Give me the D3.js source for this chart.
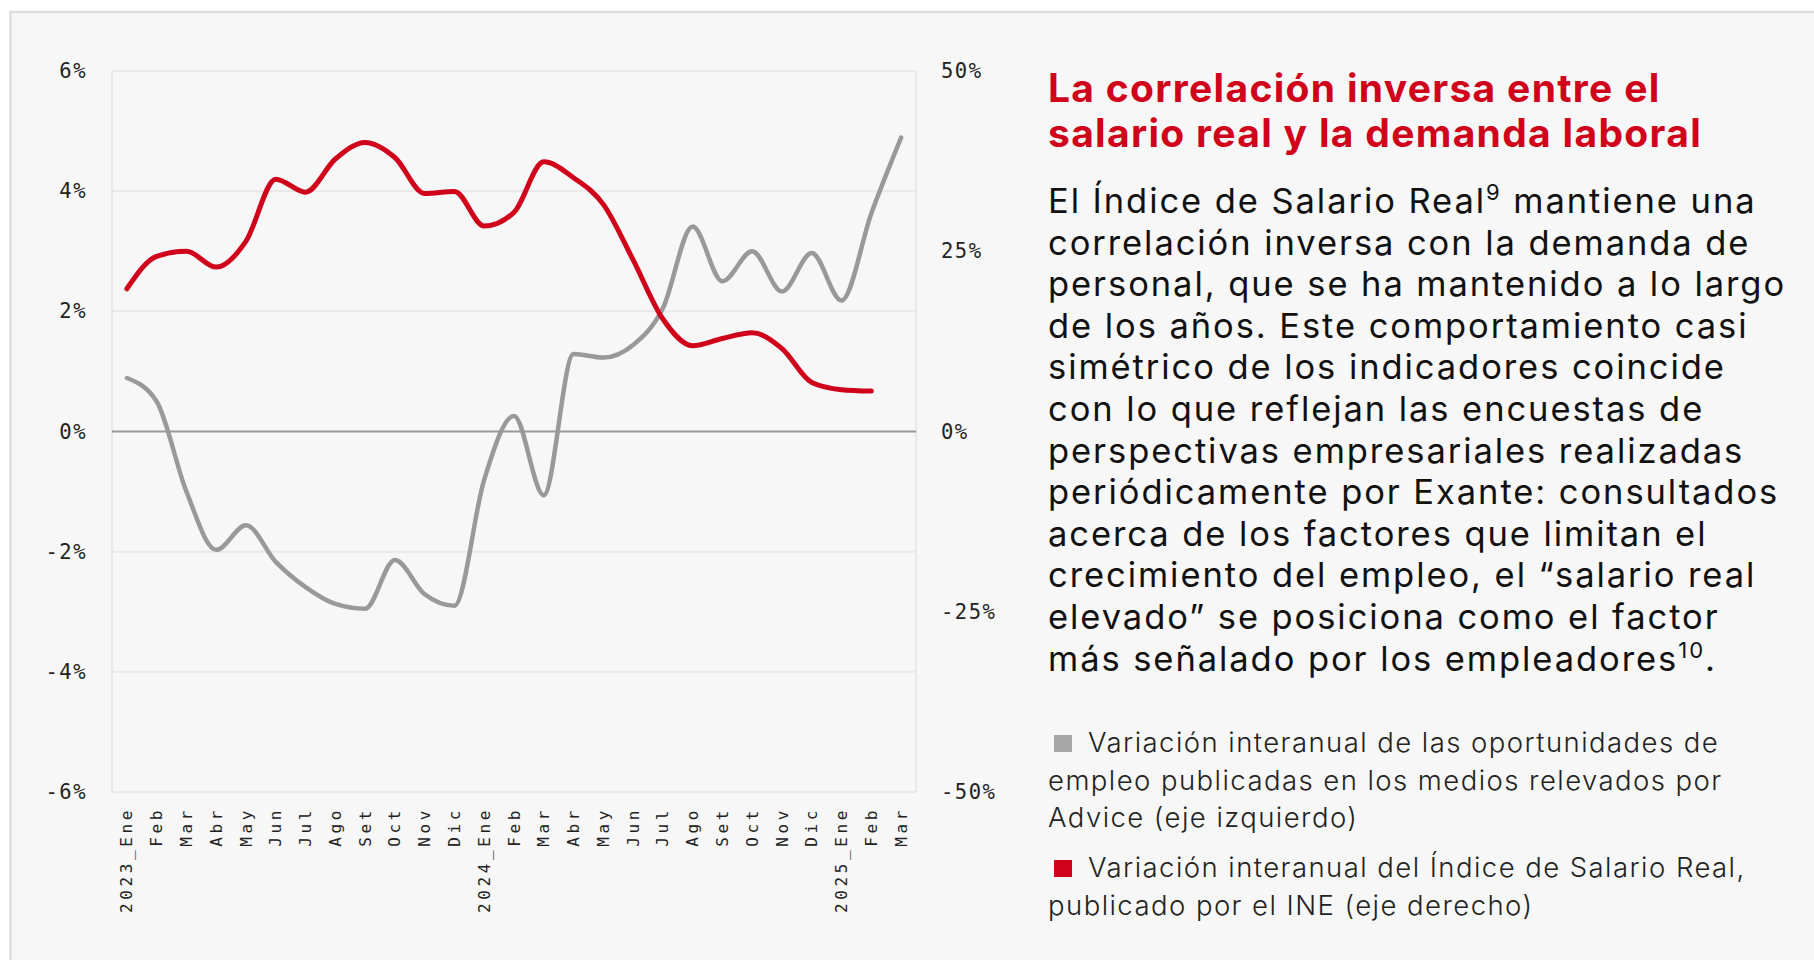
<!DOCTYPE html>
<html>
<head>
<meta charset="utf-8">
<script src="https://cdn.jsdelivr.net/npm/d3@7"></script>
<style>
  body { margin: 0; background: #fff; }
  .tick line { display: none; }
  .domain { display: none; }
</style>
</head>
<body>
<div id="chart"></div>
<script>
var width = 1814;
var height = 960;

// months on the x axis
var months = ["2023_Ene","Feb","Mar","Abr","May","Jun","Jul","Ago","Set","Oct","Nov","Dic",
  "2024_Ene","Feb","Mar","Abr","May","Jun","Jul","Ago","Set","Oct","Nov","Dic",
  "2025_Ene","Feb","Mar"];

// oportunidades de empleo (eje izquierdo, %)
var ofertas = [0.89, 0.5, -1.0, -1.97, -1.56, -2.17, -2.59, -2.87, -2.95, -2.14, -2.71, -2.9,
  -0.8, 0.26, -1.06, 1.29, 1.23, 1.44, 2.05, 3.41, 2.5, 3.0, 2.33, 2.97, 2.18, 3.63, 4.89];

// indice de salario real (eje derecho, %)
var salario = [19.8, 24.3, 25.0, 22.8, 26.4, 35.0, 33.2, 37.8, 40.1, 38.0, 33.0, 33.3,
  28.5, 30.4, 37.4, 35.2, 31.5, 23.8, 15.6, 11.9, 12.9, 13.7, 11.5, 6.8, 5.8, 5.6];

var leftTicks = [-6, -4, -2, 0, 2, 4, 6];
var rightTicks = [-50, -25, 0, 25, 50];

var red = "#d0021b";
var grey = "#999999";

var svg = d3.select("#chart").append("svg")
  .attr("width", width)
  .attr("height", height);

// card
svg.append("rect")
  .attr("x", 10.5).attr("y", 12)
  .attr("width", width + 20).attr("height", height + 20)
  .attr("fill", "#f7f7f7")
  .attr("stroke", "#dedede")
  .attr("stroke-width", 2.5);

var plot = {left: 112, right: 916, top: 71, bottom: 792};

var x = d3.scaleBand()
  .domain(d3.range(months.length))
  .range([plot.left, plot.right]);

var yL = d3.scaleLinear().domain([-6, 6]).range([plot.bottom, plot.top]);
var yR = d3.scaleLinear().domain([-50, 50]).range([plot.bottom, plot.top]);

// grid
svg.append("g").selectAll("line")
  .data(leftTicks.filter(function(d) { return d != 0; }))
  .enter().append("line")
  .attr("x1", plot.left).attr("x2", plot.right)
  .attr("y1", function(d) { return yL(d); })
  .attr("y2", function(d) { return yL(d); })
  .attr("stroke", "#e9e9e9")
  .attr("stroke-width", 2);

svg.append("g").selectAll("line")
  .data([plot.left, plot.right])
  .enter().append("line")
  .attr("x1", function(d) { return d; }).attr("x2", function(d) { return d; })
  .attr("y1", plot.top).attr("y2", plot.bottom)
  .attr("stroke", "#e9e9e9")
  .attr("stroke-width", 2);

svg.append("line")
  .attr("x1", plot.left).attr("x2", plot.right)
  .attr("y1", yL(0)).attr("y2", yL(0))
  .attr("stroke", "#999")
  .attr("stroke-width", 2);

// axes
var pct = function(d) { return d + "%"; };

var axisL = svg.append("g")
  .attr("transform", "translate(" + (plot.left - 22) + ",0)")
  .call(d3.axisLeft(yL).tickValues(leftTicks).tickSize(0).tickFormat(pct));

var axisR = svg.append("g")
  .attr("transform", "translate(" + (plot.right + 22) + ",0)")
  .call(d3.axisRight(yR).tickValues(rightTicks).tickSize(0).tickFormat(pct));

[axisL, axisR].forEach(function(a) {
  a.selectAll("text")
    .attr("fill", "#222")
    .style("font-family", "'DejaVu Sans Mono', monospace")
    .style("font-size", "20.5px")
    .style("letter-spacing", "1.5px");
});

var axisX = svg.append("g")
  .attr("transform", "translate(0," + plot.bottom + ")")
  .call(d3.axisBottom(x).tickSize(0).tickFormat(function(i) { return months[i]; }));

axisX.selectAll("text")
  .attr("transform", "rotate(-90)")
  .attr("x", -15)
  .attr("y", 0)
  .attr("dy", "0.35em")
  .attr("text-anchor", "end")
  .attr("fill", "#222")
  .style("font-family", "'DejaVu Sans Mono', monospace")
  .style("font-size", "16px")
  .style("letter-spacing", "3.6px");

// lines
var lineL = d3.line()
  .x(function(d, i) { return x(i) + x.bandwidth() / 2; })
  .y(function(d) { return yL(d); })
  .curve(d3.curveMonotoneX);

var lineR = d3.line()
  .x(function(d, i) { return x(i) + x.bandwidth() / 2; })
  .y(function(d) { return yR(d); })
  .curve(d3.curveMonotoneX);

svg.append("path")
  .datum(ofertas)
  .attr("d", lineL)
  .attr("fill", "none")
  .attr("stroke", grey)
  .attr("stroke-width", 4.5)
  .attr("stroke-linecap", "round");

svg.append("path")
  .datum(salario)
  .attr("d", lineR)
  .attr("fill", "none")
  .attr("stroke", red)
  .attr("stroke-width", 5)
  .attr("stroke-linecap", "round");

// squeeze/stretch a block of lines so one line gets the width it has in the original
function fit(g, refIndex, target) {
  var node = g.selectAll("text").nodes()[refIndex];
  var n = node.textContent.length;
  var w = node.getComputedTextLength();
  g.style("letter-spacing", ((target - w) / n).toFixed(2) + "px");
}

// text block
var tx = 1048;
var title = ["La correlación inversa entre el", "salario real y la demanda laboral"];
var titleG = svg.append("g")
  .attr("fill", red)
  .style("font-family", "Inter, sans-serif")
  .style("font-weight", "700")
  .style("font-size", "39px");
titleG.selectAll("text")
  .data(title)
  .enter().append("text")
  .attr("x", tx)
  .attr("y", function(d, i) { return 102 + i * 45; })
  .text(function(d) { return d; });
fit(titleG, 1, 654);

var body = [
  ["El Índice de Salario Real", "9", " mantiene una"],
  ["correlación inversa con la demanda de"],
  ["personal, que se ha mantenido a lo largo"],
  ["de los años. Este comportamiento casi"],
  ["simétrico de los indicadores coincide"],
  ["con lo que reflejan las encuestas de"],
  ["perspectivas empresariales realizadas"],
  ["periódicamente por Exante: consultados"],
  ["acerca de los factores que limitan el"],
  ["crecimiento del empleo, el “salario real"],
  ["elevado” se posiciona como el factor"],
  ["más señalado por los empleadores", "10", "."]
];

var bodyG = svg.append("g")
  .style("font-family", "Inter, sans-serif")
  .style("font-size", "34.5px")
  .attr("fill", "#111");

body.forEach(function(parts, i) {
  var t = bodyG.append("text")
    .attr("x", tx)
    .attr("y", 213 + i * 41.6);
  parts.forEach(function(p, j) {
    var s = t.append("tspan").text(p);
    if (j == 1) s.attr("dy", -13).style("font-size", "22px");
    if (j == 2) s.attr("dy", 13);
  });
});
fit(bodyG, 7, 731);

// legend
var legend = [
  {color: "#a6a6a6", lines: ["Variación interanual de las oportunidades de", "empleo publicadas en los medios relevados por", "Advice (eje izquierdo)"], y: 752},
  {color: red, lines: ["Variación interanual del Índice de Salario Real,", "publicado por el INE (eje derecho)"], y: 877}
];

var legendG = svg.append("g")
  .style("font-family", "Inter, sans-serif")
  .style("font-weight", "300")
  .style("font-size", "27.5px")
  .attr("fill", "#222");

legend.forEach(function(l) {
  svg.append("rect")
    .attr("x", 1054).attr("y", l.y - 17)
    .attr("width", 18).attr("height", 17)
    .attr("fill", l.color);
  l.lines.forEach(function(s, i) {
    legendG.append("text")
      .attr("x", i == 0 ? 1088 : tx)
      .attr("y", l.y + i * 37.5)
      .text(s);
  });
});
fit(legendG, 0, 631);
</script>
</body>
</html>
